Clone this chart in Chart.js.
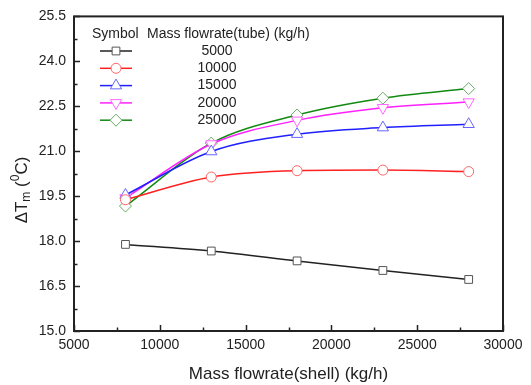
<!DOCTYPE html>
<html>
<head>
<meta charset="utf-8">
<script src="https://cdn.jsdelivr.net/npm/chart.js@4/dist/chart.umd.min.js"></script>
<style>
  html, body { margin: 0; padding: 0; background: #fff; }
  #wrap { width: 531px; height: 385px; }
</style>
</head>
<body>
<div id="wrap"><canvas id="dtChart" width="531" height="385"></canvas></div>
<script>
// shell side mass flowrate (kg/h)
const shellFlow = [8000, 13000, 18000, 23000, 28000];

// delta Tm for each tube side mass flowrate
const tube5000 = [17.89, 17.67, 17.34, 17.02, 16.72];
const tube10000 = [19.38, 20.14, 20.35, 20.37, 20.32];
const tube15000 = [19.54, 20.99, 21.57, 21.79, 21.90];
const tube20000 = [19.44, 21.24, 22.03, 22.45, 22.64];
const tube25000 = [19.17, 21.27, 22.21, 22.77, 23.09];

const tubeLabels = ["5000", "10000", "15000", "20000", "25000"];

// ticks (major + minor)
const xTicks = [5000, 7500, 10000, 12500, 15000, 17500, 20000, 22500, 25000, 27500, 30000];
const yTicks = [15.0, 15.75, 16.5, 17.25, 18.0, 18.75, 19.5, 20.25, 21.0, 21.75, 22.5, 23.25, 24.0, 24.75, 25.5];

const FONT = "'Liberation Sans', Arial, sans-serif";

function series(label, data, line, mark, style, size, rot) {
  return {
    label: label,
    data: shellFlow.map((x, i) => ({ x: x, y: data[i] })),
    borderColor: line,
    borderWidth: 1.5,
    pointStyle: style,
    rotation: rot || 0,
    pointRadius: size,
    pointBorderColor: mark,
    pointBackgroundColor: "#fff",
    pointBorderWidth: 1,
    cubicInterpolationMode: "monotone",
    fill: false,
  };
}

const datasets = [
  series(tubeLabels[0], tube5000, "#222222", "#555555", "rect", 5.5),
  series(tubeLabels[1], tube10000, "#ff2020", "#ff6666", "circle", 5),
  series(tubeLabels[2], tube15000, "#2020ff", "#6666ff", "triangle", 6.5),
  series(tubeLabels[3], tube20000, "#ff20ff", "#ff66ff", "triangle", 6.5, 180),
  series(tubeLabels[4], tube25000, "#128a12", "#66aa66", "rectRot", 6),
];

// box, inward ticks, y title and the symbol table
const decor = {
  id: "decor",
  afterDraw(chart) {
    const ctx = chart.ctx;
    const a = chart.chartArea;
    const xs = chart.scales.x, ys = chart.scales.y;
    ctx.save();
    ctx.strokeStyle = "#222";
    ctx.lineWidth = 1.5;
    xs.ticks.forEach((t, i) => {
      const px = Math.round(xs.getPixelForValue(t.value)) + 0.5;
      const len = i % 2 === 0 ? 6 : 3.5;
      ctx.beginPath();
      ctx.moveTo(px, a.bottom);
      ctx.lineTo(px, a.bottom - len);
      ctx.stroke();
    });
    ys.ticks.forEach((t, i) => {
      const py = Math.round(ys.getPixelForValue(t.value)) + 0.5;
      const len = i % 2 === 0 ? 6 : 3.5;
      ctx.beginPath();
      ctx.moveTo(a.left, py);
      ctx.lineTo(a.left + len, py);
      ctx.stroke();
    });
    ctx.lineWidth = 2;
    ctx.strokeRect(a.left, a.top, a.right - a.left, a.bottom - a.top);

    // y axis title: delta T_m (^0 C)
    ctx.translate(22, 190);
    ctx.rotate(-Math.PI / 2);
    ctx.fillStyle = "#222";
    ctx.textBaseline = "middle";
    const big = "17px " + FONT, small = "12px " + FONT;
    const parts = [
      { t: "\u0394T", f: big, dy: 0 },
      { t: "m", f: small, dy: 5 },
      { t: " (", f: big, dy: 0 },
      { t: "0", f: small, dy: -6 },
      { t: "C)", f: big, dy: 0 },
    ];
    let total = 0;
    parts.forEach(p => { ctx.font = p.f; p.w = ctx.measureText(p.t).width; total += p.w; });
    let cx = -total / 2;
    parts.forEach(p => {
      ctx.font = p.f;
      ctx.textAlign = "left";
      ctx.fillText(p.t, cx, p.dy);
      cx += p.w;
    });
    ctx.restore();

    // symbol table
    ctx.save();
    ctx.fillStyle = "#222";
    ctx.font = "14px " + FONT;
    ctx.textBaseline = "middle";
    ctx.textAlign = "left";
    ctx.fillText("Symbol", 92, 34);
    ctx.fillText("Mass flowrate(tube) (kg/h)", 147, 34);
    chart.data.datasets.forEach((ds, i) => {
      const y = 51 + i * 17.3;
      ctx.strokeStyle = ds.borderColor;
      ctx.lineWidth = 1.5;
      ctx.beginPath();
      ctx.moveTo(100, y);
      ctx.lineTo(132, y);
      ctx.stroke();
      ctx.strokeStyle = ds.pointBorderColor;
      ctx.fillStyle = "#fff";
      ctx.lineWidth = 1;
      Chart.helpers.drawPoint(ctx, {
        pointStyle: ds.pointStyle,
        rotation: ds.rotation,
        radius: ds.pointRadius,
        borderWidth: 1,
      }, 116, y);
      ctx.fillStyle = "#222";
      ctx.textAlign = "center";
      ctx.fillText(ds.label, 217, y);
    });
    ctx.restore();
  },
};

new Chart(document.getElementById("dtChart"), {
  type: "line",
  data: { datasets: datasets },
  options: {
    responsive: false,
    animation: false,
    layout: { padding: { top: 15, right: 28, left: 0, bottom: 0 } },
    plugins: { legend: { display: false }, tooltip: { enabled: false } },
    scales: {
      x: {
        type: "linear",
        min: 5000,
        max: 30000,
        afterBuildTicks: (s) => { s.ticks = xTicks.map(v => ({ value: v })); },
        afterFit: (s) => { s.height = 54; },
        grid: { display: false, drawTicks: false },
        border: { display: false },
        ticks: {
          autoSkip: false,
          maxRotation: 0,
          padding: 6,
          color: "#222",
          font: { family: FONT, size: 14 },
          callback: (v, i) => (i % 2 === 0 ? String(v) : ""),
        },
        title: {
          display: true,
          text: "Mass flowrate(shell) (kg/h)",
          color: "#222",
          font: { family: FONT, size: 17 },
          padding: { top: 4, bottom: 0 },
        },
      },
      y: {
        min: 15,
        max: 25.5,
        afterBuildTicks: (s) => { s.ticks = yTicks.map(v => ({ value: v })); },
        afterFit: (s) => { s.width = 74; },
        grid: { display: false, drawTicks: false },
        border: { display: false },
        ticks: {
          autoSkip: false,
          padding: 8,
          color: "#222",
          font: { family: FONT, size: 14 },
          callback: (v, i) => (i % 2 === 0 ? v.toFixed(1) : ""),
        },
      },
    },
  },
  plugins: [decor],
});
</script>
</body>
</html>
